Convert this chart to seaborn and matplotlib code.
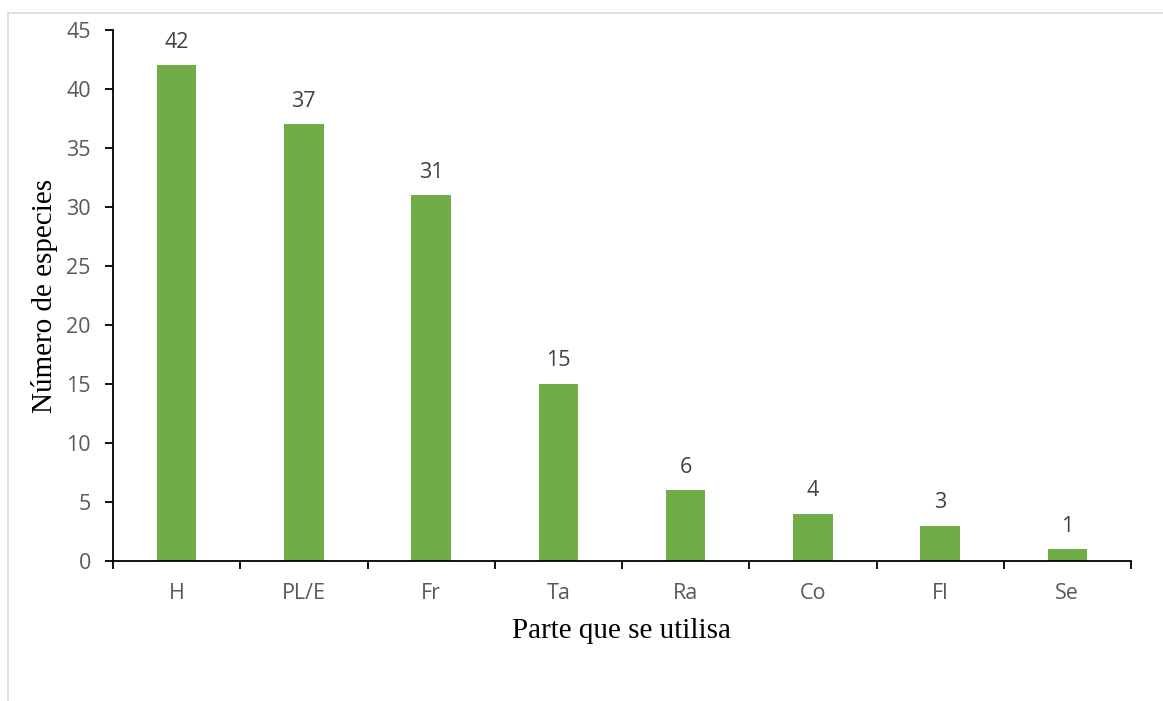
import matplotlib
matplotlib.use("Agg")
import matplotlib.pyplot as plt
from matplotlib.patches import Rectangle
from matplotlib.ticker import FixedLocator, MultipleLocator
import seaborn as sns
import pandas as pd

partes = ["H", "PL/E", "Fr", "Ta", "Ra", "Co", "Fl", "Se"]
especies = [42, 37, 31, 15, 6, 4, 3, 1]

sns.set_theme(style="white")
plt.rcParams["font.family"] = ["Open Sans", "DejaVu Sans"]

df = pd.DataFrame({"parte": partes, "especies": especies})

fig = plt.figure(figsize=(11.63, 7.01), dpi=100)
ax = fig.add_axes([113 / 1163, 1 - 561 / 701, (1131 - 113) / 1163, (561 - 30) / 701])

# light outer frame of the chart area
fig.add_artist(Rectangle((8 / 1163, -0.05), 1.2, 1 - 13 / 701 + 0.05,
                         transform=fig.transFigure, fill=False,
                         edgecolor="#d9d9d9", linewidth=1.2))

sns.barplot(data=df, x="parte", y="especies", color="#70AD47", width=0.31,
            saturation=1, ax=ax, edgecolor="none")

for i, v in enumerate(especies):
    ax.annotate(str(v), (i, v), xytext=(0, 9), textcoords="offset points",
                ha="center", va="bottom", fontsize=15.5, color="#404040")

ax.set_xlim(-0.5, len(partes) - 0.5)
ax.set_ylim(0, 45)
ax.yaxis.set_major_locator(MultipleLocator(5))
ax.xaxis.set_minor_locator(FixedLocator([i - 0.5 for i in range(len(partes) + 1)]))

for side in ["top", "right"]:
    ax.spines[side].set_visible(False)
for side in ["left", "bottom"]:
    ax.spines[side].set_color("black")
    ax.spines[side].set_linewidth(1.3)

ax.tick_params(axis="y", which="major", direction="out", length=6, width=1.3,
               color="black", labelsize=15.5, labelcolor="#595959", pad=10, left=True)
ax.tick_params(axis="x", which="major", length=0, labelsize=15.5,
               labelcolor="#595959", pad=16)
ax.tick_params(axis="x", which="minor", direction="out", length=5.5, width=1.3,
               color="black", bottom=True)

ax.set_xlabel("Parte que se utilisa", family="Liberation Serif", fontsize=21,
              color="black", labelpad=10)
ax.set_ylabel("Número de especies", family="Liberation Serif", fontsize=21,
              color="black", labelpad=6)
ax.grid(False)

fig.savefig("out.png", dpi=100)
